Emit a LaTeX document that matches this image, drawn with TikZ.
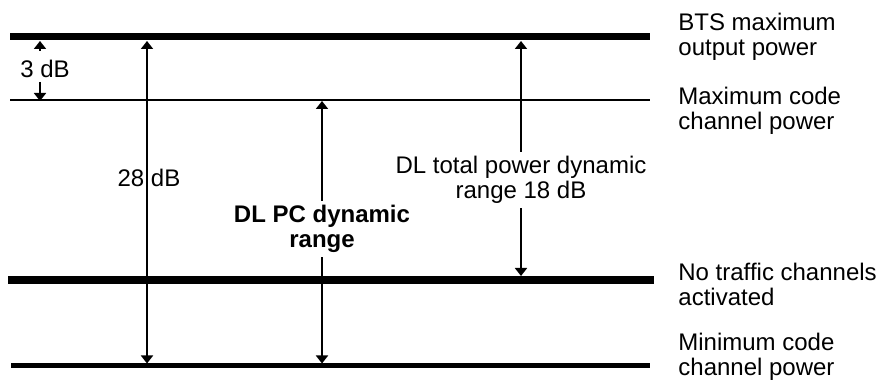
\documentclass[tikz,border=0pt]{standalone}
\usepackage{fontspec}
\setmainfont{Liberation Sans}
\usetikzlibrary{arrows.meta}

\begin{document}
\begin{tikzpicture}[
        x=0.5pt, y=-0.5pt,
        font=\fontsize{12}{12.5}\selectfont,
        level/.style={draw=black, line cap=butt},
        levellbl/.style={anchor=west, align=left, inner sep=0pt, text=black},
        rangelbl/.style={align=center, inner sep=2pt, text=black},
        arrow/.style={-{Triangle[length=4pt, width=6pt]}, line width=0.9pt},
        dblarrow/.style={{Triangle[length=4pt, width=6pt]}-{Triangle[length=4pt, width=6pt]}, line width=0.9pt}
    ]

    \useasboundingbox (0,0) rectangle (883,389);

    % power levels
    \coordinate (btsw) at (10,37);   \coordinate (btse) at (650,37);
    \coordinate (maxw) at (10,100);  \coordinate (maxe) at (650,100);
    \coordinate (noTw) at (8,280);   \coordinate (noTe) at (654,280);
    \coordinate (minw) at (11,366);  \coordinate (mine) at (650,366);

    \draw[level, line width=3.5pt] (btsw) -- (btse);
    \draw[level, line width=1pt]   (maxw) -- (maxe);
    \draw[level, line width=4pt]   (noTw) -- (noTe);
    \draw[level, line width=2.5pt] (minw) -- (mine);

    \node[levellbl] (btsLbl) at (678,37)  {BTS maximum\\output power};
    \node[levellbl] (maxLbl) at (678,111) {Maximum code\\channel power};
    \node[levellbl] (noTLbl) at (678,284) {No traffic channels\\activated};
    \node[levellbl] (minLbl) at (678,357) {Minimum code\\channel power};

    % 3 dB
    \node[inner sep=0pt] (db3) at (45,69) {3 dB};
    \coordinate (db3a) at (40,51);  \coordinate (db3t) at (40,41);
    \coordinate (db3b) at (40,82);  \coordinate (db3u) at (40,101);
    \draw[arrow] (db3a) -- (db3t);
    \draw[arrow] (db3b) -- (db3u);

    % 28 dB
    \coordinate (r28t) at (147,41);
    \coordinate (r28b) at (147,363.5);
    \draw[dblarrow] (r28t) -- (r28b);
    \node[inner sep=0pt] (r28Lbl) at (149,178) {28 dB};

    % DL PC dynamic range
    \node[rangelbl] (pcLbl) at (322,229) {\textbf{DL PC dynamic}\\\textbf{range}};
    \coordinate (pcT) at (322,101);
    \coordinate (pcB) at (322,363.5);
    \draw[arrow] (pcLbl) -- (pcT);
    \draw[arrow] (pcLbl) -- (pcB);

    % DL total power dynamic range
    \node[rangelbl] (totLbl) at (521,180) {DL total power dynamic\\range 18 dB};
    \coordinate (totT) at (521,41);
    \coordinate (totB) at (521,276);
    \draw[arrow] (totLbl) -- (totT);
    \draw[arrow] (totLbl) -- (totB);

\end{tikzpicture}
\end{document}
